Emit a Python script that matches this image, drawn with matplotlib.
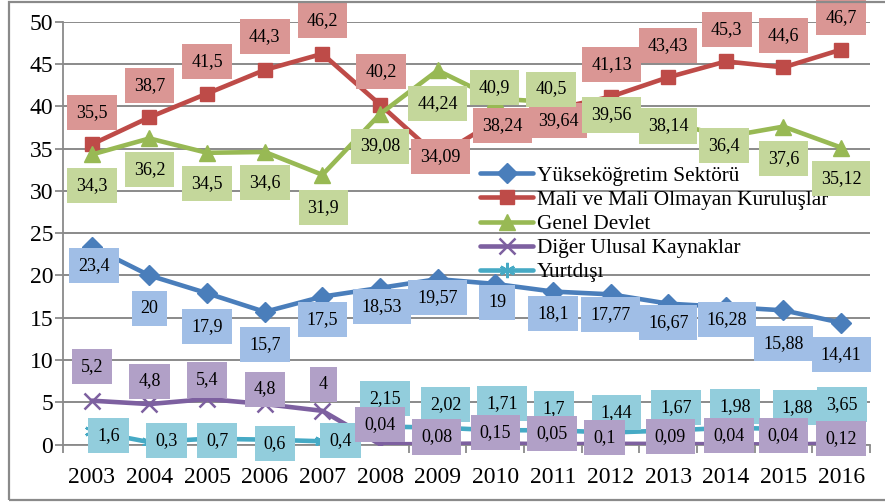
import matplotlib
matplotlib.use("Agg")
import matplotlib.pyplot as plt
from matplotlib.patches import Rectangle

FONT = ['Liberation Serif']
plt.rcParams['font.family'] = FONT

years = ["2003", "2004", "2005", "2006", "2007", "2008", "2009",
         "2010", "2011", "2012", "2013", "2014", "2015", "2016"]

yuksekogretim = [23.4, 20, 17.9, 15.7, 17.5, 18.53, 19.57, 19, 18.1, 17.77, 16.67, 16.28, 15.88, 14.41]
mali = [35.5, 38.7, 41.5, 44.3, 46.2, 40.2, 34.09, 38.24, 39.64, 41.13, 43.43, 45.3, 44.6, 46.7]
genel = [34.3, 36.2, 34.5, 34.6, 31.9, 39.08, 44.24, 40.9, 40.5, 39.56, 38.14, 36.4, 37.6, 35.12]
diger = [5.2, 4.8, 5.4, 4.8, 4, 0.04, 0.08, 0.15, 0.05, 0.1, 0.09, 0.04, 0.04, 0.12]
yurtdisi = [1.6, 0.3, 0.7, 0.6, 0.4, 2.15, 2.02, 1.71, 1.7, 1.44, 1.67, 1.98, 1.88, 3.65]

names = ["Yükseköğretim Sektörü", "Mali ve Mali Olmayan Kuruluşlar",
         "Genel Devlet", "Diğer Ulusal Kaynaklar", "Yurtdışı"]

# label box offsets from the point, in pixels (dx right, dy down)
off_yuk = [(2, 19), (0, 33), (0, 33), (0, 33), (0, 23), (2, 19), (0, 18),
           (2, 19), (0, 22), (0, 20), (0, 19), (1, 13), (0, 33), (0, 32)]
off_mali = [(0, -32), (0, -32), (0, -32), (0, -33), (0, -33), (1, -33), (3, 0),
            (7, 4), (5, 11), (1, -32), (0, -32), (1, -32), (0, -32), (0, -32)]
off_genel = [(0, 31), (0, 31), (0, 31), (0, 31), (1, 33), (0, 32), (0, 33),
             (-1, -11), (-2, -13), (1, 5), (0, 4), (-2, 9), (0, 32), (0, 31)]
off_diger = [(0, -34), (0, -23), (0, -19), (0, -15), (1, -26), (0, -20), (-1, -7),
             (0, -11), (-1, -11), (-6, -6), (2, -7), (3, -9), (0, -9), (0, -5)]
off_yurt = [(17, 4), (17, -2), (10, 2), (10, 4), (18, -1), (5, -28), (8, -23),
            (7, -27), (1, -22), (6, -20), (8, -23), (9, -21), (14, -21), (1, -9)]

series = [
    (yuksekogretim, off_yuk, '#4A7EBB', '#A0BEE6', 'D', 10.5),
    (mali, off_mali, '#BE4B48', '#DA9694', 's', 10.5),
    (genel, off_genel, '#98B954', '#C4D79B', '^', 11.5),
    (diger, off_diger, '#7D60A0', '#B1A0C7', 'x', 11),
    (yurtdisi, off_yurt, '#46AAC5', '#92CDDC', (6, 2, 0), 11),
]

fig = plt.figure(figsize=(8.85, 5.04), dpi=100)
ax = fig.add_axes([0.0712, 0.1177, 0.9118, 0.8393])

x = list(range(len(years)))
px = 0.72  # points per pixel

for i, (vals, offs, col, boxcol, mk, ms) in enumerate(series):
    ax.plot(x, vals, color=col, lw=3.3, marker=mk, markersize=ms,
            markeredgewidth=1.8 if mk in ('x',) or isinstance(mk, tuple) else 1,
            markeredgecolor=col, label=names[i], zorder=3 + i * 0.1,
            solid_capstyle='round')

label_z = [5, 5.1, 5.2, 5.4, 5.3]
for i, (vals, offs, col, boxcol, mk, ms) in enumerate(series):
    for xi, v, (dx, dy) in zip(x, vals, offs):
        txt = f"{v:g}".replace(".", ",")
        ax.annotate(txt, (xi, v), xytext=(dx * px, -dy * px), textcoords='offset points',
                    ha='center', va='center', fontsize=13, color='black', family=FONT,
                    bbox=dict(boxstyle='square,pad=0.5', fc=boxcol, ec='none'),
                    zorder=label_z[i], annotation_clip=False)

ax.set_xlim(-0.5, len(years) - 0.5)
ax.set_ylim(0, 50)
ax.set_yticks(range(0, 51, 5))
ax.set_xticks(x)
ax.set_xticklabels(years)
ax.set_xticks([i - 0.5 for i in range(len(years) + 1)], minor=True)
ax.tick_params(axis='x', which='major', length=0, labelsize=17, pad=16)
ax.tick_params(axis='x', which='minor', length=6, width=1.3, color='#8a8a8a')
ax.tick_params(axis='y', length=6, width=1.3, color='#8a8a8a', labelsize=17, pad=1)
for lab in ax.get_xticklabels() + ax.get_yticklabels():
    lab.set_family(FONT)
ax.grid(axis='y', color='#8a8a8a', lw=1.4, zorder=0)
ax.set_axisbelow(True)
for s in ('top', 'right'):
    ax.spines[s].set_visible(False)
for s in ('left', 'bottom'):
    ax.spines[s].set_color('#8a8a8a')
    ax.spines[s].set_linewidth(1.3)

leg = ax.legend(loc='upper left', bbox_to_anchor=(0.517, 0.659), frameon=False,
                prop={'family': FONT, 'size': 15.3}, handlelength=2.5,
                handletextpad=0.15, labelspacing=0.2, borderaxespad=0, borderpad=0)
leg.set_zorder(4)

fig.patches.append(Rectangle((9 / 885, 1 - 500 / 504), 1.2, 498.5 / 504,
                             transform=fig.transFigure, fill=False,
                             ec='#8a8a8a', lw=1.6))

fig.savefig("out.png", dpi=100)
